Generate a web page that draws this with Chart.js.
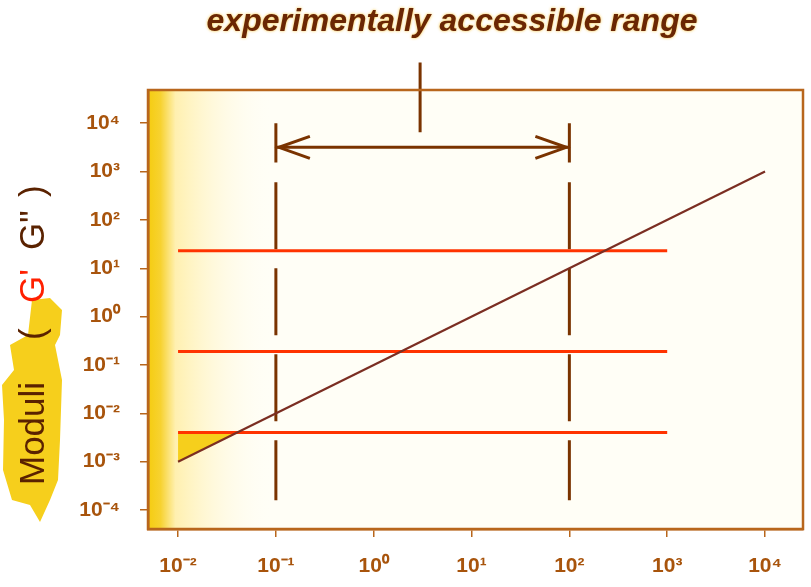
<!DOCTYPE html>
<html>
<head>
<meta charset="utf-8">
<script src="https://cdn.jsdelivr.net/npm/chart.js@4/dist/chart.umd.min.js"></script>
<style>
html, body { margin: 0; padding: 0; background: #fff; }
#wrap { width: 811px; height: 587px; }
</style>
</head>
<body>
<div id="wrap"><canvas id="moduliChart"></canvas></div>
<script>
// frequency / moduli values (log-log)
const freqTicks = [1e-2, 1e-1, 1, 10, 100, 1000, 10000];
const moduliTicks = [1e-4, 1e-3, 1e-2, 1e-1, 1, 10, 100, 1000, 10000];
const plateauModuli = [23, 0.19, 0.004];
const plateauFreq = [0.01, 1000];
const slopeFreq = [0.01, 10000];
const slopeModuli = [0.001, 1000];
const shadeFreq = [0.01, 0.04];
const shadeModuli = [0.001, 0.004];
const accessibleFreq = [0.1, 100];
const dashModuli = [600, 1.6e-4];
const capModuli = [10000, 1550];
const arrowModuli = 3180;
const stemFreq = 2.98;
const stemModuli = [180000, 6500];

const brown = "#7a3300";
const frameColor = "#b8661c";
const tickColor = "#a8540c";

const sup = { "-": "\u207B", "0": "\u2070", "1": "\u00B9", "2": "\u00B2", "3": "\u00B3", "4": "\u2074" };
function powLabel(v) {
    const e = Math.round(Math.log10(v));
    return "10" + String(e).split("").map(c => sup[c]).join("");
}

function line(points, color, width, extra) {
    return Object.assign({
        data: points,
        borderColor: color,
        borderWidth: width,
        pointRadius: 0,
        fill: false,
        tension: 0,
    }, extra || {});
}

const datasets = [];
datasets.push(line(slopeFreq.map((x, i) => ({ x, y: slopeModuli[i] })), "#7b2e22", 2.2));
plateauModuli.forEach(v => {
    datasets.push(line(plateauFreq.map(x => ({ x, y: v })), "#ff3300", 3));
});
accessibleFreq.forEach(f => {
    datasets.push(line(dashModuli.map(y => ({ x: f, y })), brown, 3, { borderDash: [67, 19] }));
    datasets.push(line(capModuli.map(y => ({ x: f, y })), brown, 3));
});
datasets.push(line(accessibleFreq.map(x => ({ x, y: arrowModuli })), brown, 3));
datasets.push(line(stemModuli.map(y => ({ x: stemFreq, y })), brown, 3, { clip: false }));
datasets.push(line(shadeFreq.map((x, i) => ({ x, y: shadeModuli[i] })), "rgba(0,0,0,0)", 0, {
    fill: { value: plateauModuli[2] },
    backgroundColor: "#f6cf1c",
}));

const decor = {
    id: "decor",
    beforeDraw(chart) {
        const ctx = chart.ctx;
        const a = chart.chartArea;
        ctx.save();
        ctx.fillStyle = "#fff";
        ctx.fillRect(0, 0, chart.width, chart.height);

        // yellow smudge behind the axis title
        ctx.fillStyle = "#f6cf1c";
        ctx.beginPath();
        const blob = [[32, 300], [50, 298], [62, 310], [60, 335], [55, 345], [62, 380], [60, 440], [58, 480],
            [50, 500], [40, 522], [30, 505], [12, 500], [3, 470], [4, 420], [2, 385], [14, 370], [10, 345], [28, 335]];
        blob.forEach((p, i) => i ? ctx.lineTo(p[0], p[1]) : ctx.moveTo(p[0], p[1]));
        ctx.closePath();
        ctx.fill();

        // plot background
        ctx.fillStyle = "#fffef6";
        ctx.fillRect(a.left, a.top, a.right - a.left, a.bottom - a.top);
        const g = ctx.createLinearGradient(a.left, 0, a.left + 125, 0);
        g.addColorStop(0, "#f5cc10");
        g.addColorStop(0.1, "#f7d230");
        g.addColorStop(0.22, "#fff0b0");
        g.addColorStop(1, "rgba(255,254,246,0)");
        ctx.fillStyle = g;
        ctx.fillRect(a.left, a.top, 125, a.bottom - a.top);
        ctx.restore();
    },
    afterDatasetsDraw(chart) {
        const ctx = chart.ctx;
        const xs = chart.scales.x, ys = chart.scales.y;
        const yA = ys.getPixelForValue(arrowModuli);
        ctx.save();
        ctx.strokeStyle = brown;
        ctx.lineWidth = 3;
        ctx.lineJoin = "miter";
        [[accessibleFreq[0], 1], [accessibleFreq[1], -1]].forEach(([f, dir]) => {
            const xT = xs.getPixelForValue(f);
            ctx.beginPath();
            ctx.moveTo(xT + dir * 34, yA - 11);
            ctx.lineTo(xT + dir * 3, yA);
            ctx.lineTo(xT + dir * 34, yA + 11);
            ctx.stroke();
        });
        const a = chart.chartArea;
        ctx.strokeStyle = frameColor;
        ctx.lineWidth = 2.5;
        ctx.strokeRect(a.left, a.top, a.right - a.left, a.bottom - a.top);
        ctx.restore();
    },
    afterDraw(chart) {
        const ctx = chart.ctx;
        ctx.save();
        ctx.shadowColor = "rgba(245,180,0,0.8)";
        ctx.shadowBlur = 3;
        ctx.fillStyle = "#6a2604";
        ctx.font = "bold italic 32px 'Liberation Sans', Arial, sans-serif";
        ctx.textAlign = "center";
        ctx.textBaseline = "alphabetic";
        ctx.fillText("experimentally accessible range", 452, 31);

        ctx.shadowBlur = 0;
        ctx.translate(44, 485);
        ctx.rotate(-Math.PI / 2);
        ctx.textAlign = "left";
        ctx.font = "35px 'Liberation Sans', Arial, sans-serif";
        const parts = [["Moduli", 0, "#5a2200"], ["(", 145, "#5a2200"], ["G'", 182, "#ff2000"],
            ["G\"", 235, "#5a2200"], [")", 288, "#5a2200"]];
        parts.forEach(([t, off, c]) => {
            ctx.fillStyle = c;
            ctx.fillText(t, off, 0);
        });
        ctx.restore();
    }
};

function axis(ticks, min, max, fit, pad) {
    return {
        type: "logarithmic",
        min, max,
        afterBuildTicks: s => { s.ticks = ticks.map(v => ({ value: v })); },
        afterFit: fit,
        ticks: {
            callback: v => powLabel(v),
            color: tickColor,
            font: { family: "'Liberation Sans', Arial, sans-serif", size: 21, weight: "bold" },
            autoSkip: false,
            maxRotation: 0,
            padding: pad,
        },
        grid: { drawOnChartArea: false, drawTicks: true, tickLength: 8, color: frameColor, lineWidth: 1.5 },
        border: { display: true, color: frameColor, width: 2.5 },
    };
}

const ctx = document.getElementById("moduliChart").getContext("2d");
new Chart(ctx, {
    type: "line",
    data: { datasets },
    options: {
        responsive: true,
        maintainAspectRatio: false,
        animation: false,
        layout: { padding: { top: 90, right: 8, left: 0, bottom: 0 } },
        plugins: { legend: { display: false }, tooltip: { enabled: false }, title: { display: false } },
        scales: {
            x: axis(freqTicks, 0.00493, 24440, s => { s.height = 58; }, 17),
            y: axis(moduliTicks, 4.05e-5, 48700, s => { s.width = 148; }, 20),
        },
    },
    plugins: [decor],
});
</script>
</body>
</html>
